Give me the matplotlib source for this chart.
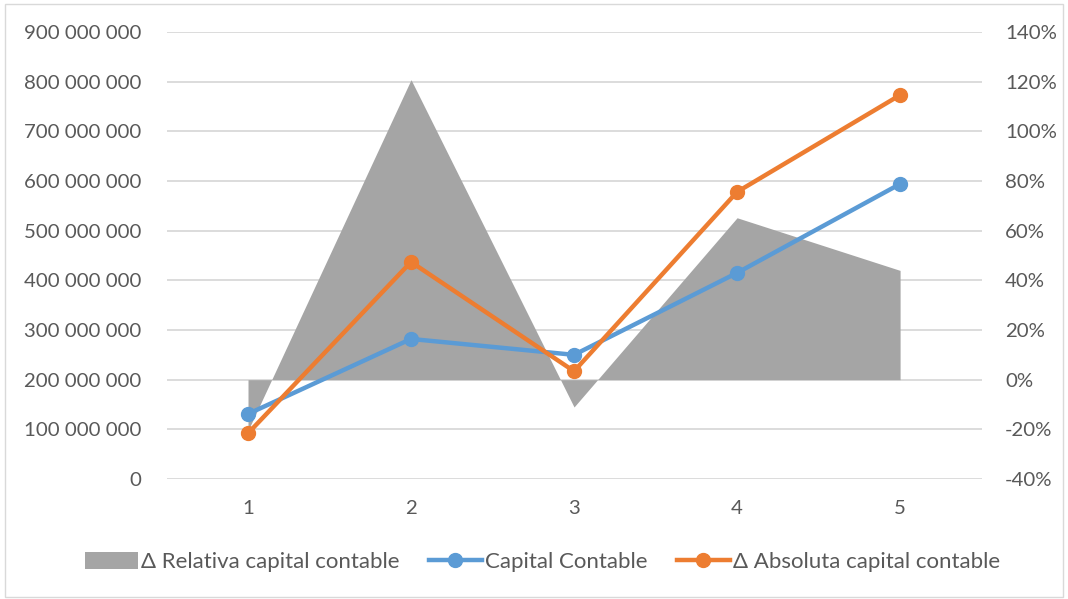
import numpy as np
import matplotlib
matplotlib.use("Agg")
import matplotlib.pyplot as plt
from matplotlib.patches import Patch, Rectangle
from matplotlib.lines import Line2D
from matplotlib.ticker import FuncFormatter, MultipleLocator

plt.rcParams['font.family'] = ['Lato', 'DejaVu Sans']

periods = [1, 2, 3, 4, 5]
capital_contable = [131e6, 282e6, 250e6, 415e6, 594e6]
delta_absoluta = [92e6, 437e6, 217e6, 578e6, 773e6]
delta_relativa = [-0.205, 1.208, -0.11, 0.652, 0.44]

gray = '#A5A5A5'
blue = '#5B9BD5'
orange = '#ED7D31'
txt = '#595959'

fig = plt.figure(figsize=(10.68, 5.99), dpi=100)
ax = fig.add_axes([0.1559, 0.2003, 0.7632, 0.7463])
ax2 = ax.twinx()

# area on the secondary axis, drawn under the lines
ax2.fill_between(periods, delta_relativa, 0, color=gray, linewidth=0, zorder=2)
ax2.set_ylim(-0.4, 1.4)
ax2.yaxis.set_major_locator(MultipleLocator(0.2))
ax2.yaxis.set_major_formatter(FuncFormatter(lambda v, p: f'{int(round(v * 100))}%'))
ax2.grid(axis='y', color='#d9d9d9', linewidth=1.3, zorder=0)
ax2.set_axisbelow(True)

ax.set_zorder(ax2.get_zorder() + 1)
ax.patch.set_visible(False)
ax.plot(periods, capital_contable, color=blue, lw=3.2, marker='o', ms=10,
        solid_capstyle='round')
ax.plot(periods, delta_absoluta, color=orange, lw=3.2, marker='o', ms=10,
        solid_capstyle='round')
ax.set_ylim(0, 900e6)
ax.set_xlim(0.5, 5.5)
ax.set_xticks(periods)
ax.yaxis.set_major_locator(MultipleLocator(100e6))
ax.yaxis.set_major_formatter(FuncFormatter(lambda v, p: f'{int(v):,}'.replace(',', ' ')))

fs = 14.7
for a in (ax, ax2):
    for s in a.spines.values():
        s.set_visible(False)
    a.tick_params(length=0, labelsize=fs, colors=txt)
ax.tick_params(axis='y', pad=18)
ax2.tick_params(axis='y', pad=17)
ax.tick_params(axis='x', pad=15)

handles = [
    Patch(facecolor=gray, edgecolor='none'),
    Line2D([], [], color=blue, lw=3.2, marker='o', ms=10),
    Line2D([], [], color=orange, lw=3.2, marker='o', ms=10),
]
labels = ['Δ Relativa capital contable', 'Capital Contable', 'Δ Absoluta capital contable']
fig.legend(handles, labels, loc='center', bbox_to_anchor=(0.508, 0.062), ncol=3,
           frameon=False, fontsize=16, labelcolor=txt, handlelength=2.4,
           handletextpad=0.15, columnspacing=1.3, handleheight=0.8)

fig.add_artist(Rectangle((0.005, 0.003), 0.99, 0.991, transform=fig.transFigure,
                         fill=False, edgecolor='#d9d9d9', linewidth=1))

fig.savefig('out.png', dpi=100, facecolor='white')
